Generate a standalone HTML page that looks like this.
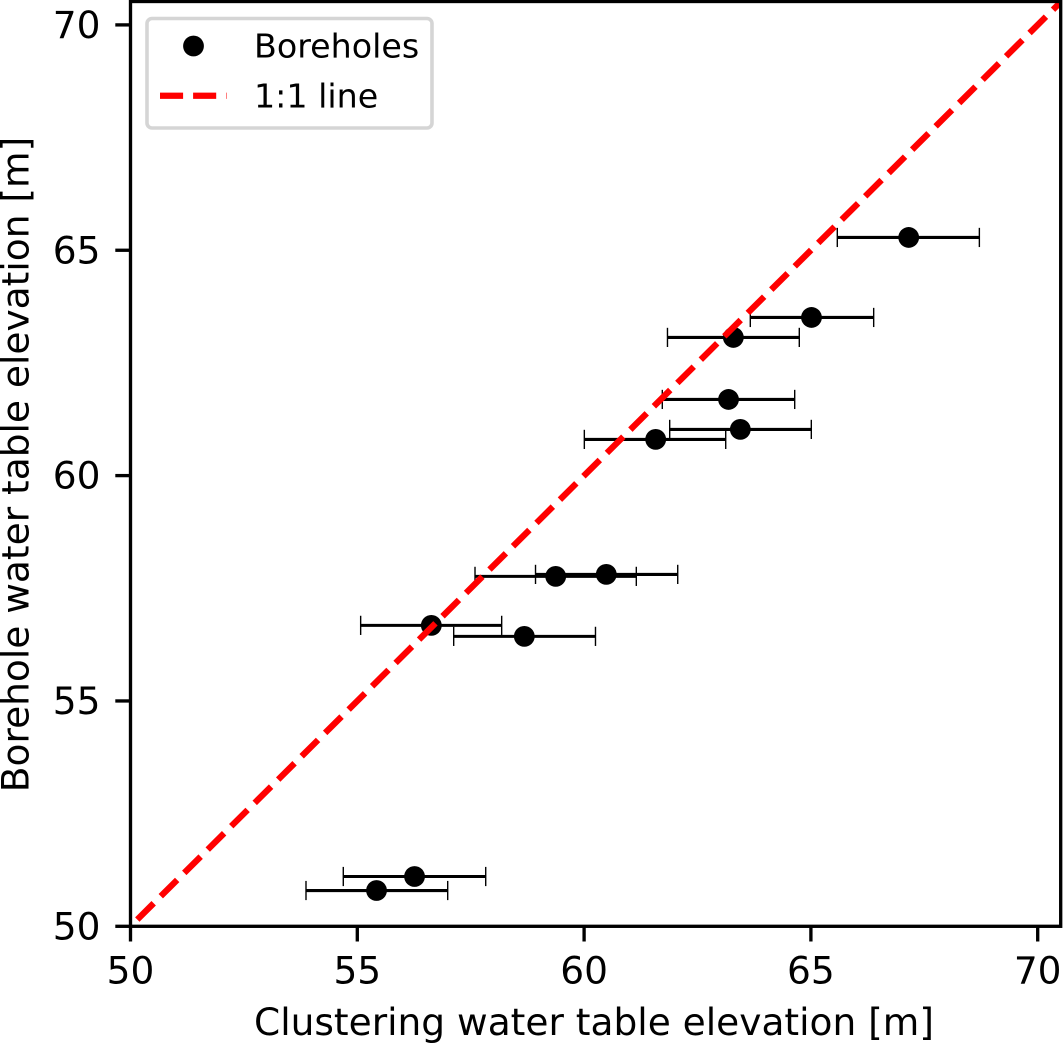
<!DOCTYPE html>
<html>
<head>
<meta charset="utf-8">
<title>Borehole vs clustering water table elevation</title>
<style>
html,body{margin:0;padding:0;background:#fff;width:1063px;height:1044px;overflow:hidden}
svg{display:block}
text{font-family:"DejaVu Sans","Liberation Sans",sans-serif;fill:#000;font-size:37.5px}
text.legend-text{font-size:33.3px}
</style>
</head>
<body>
<svg id="chart" xmlns="http://www.w3.org/2000/svg" width="1063" height="1044" viewBox="0 0 1063 1044">
  <defs>
    <clipPath id="plot-clip"><rect x="130.5" y="1.5" width="930.2" height="924.8"/></clipPath>
  </defs>
  <rect x="0" y="0" width="1063" height="1044" fill="#fff"/>
  <g id="bars"></g>
  <g id="points"></g>
  <g id="ref" clip-path="url(#plot-clip)"></g>
  <g id="ticks"></g>
  <rect x="130.5" y="1.5" width="930.2" height="924.8" fill="none" stroke="#000" stroke-width="3.33"/>
  <g>
    <rect x="147" y="18.5" width="285" height="109.5" rx="5" ry="5" fill="#fff" stroke="#d5d5d5" stroke-width="3.6"/>
    <circle cx="193.5" cy="46" r="10.4" fill="#000"/>
    <text class="legend-text" x="254" y="57.5">Boreholes</text>
    <line x1="160" y1="95.7" x2="226.7" y2="95.7" stroke="#f00" stroke-width="6.25" stroke-dasharray="23.1 10"/>
    <text class="legend-text" x="254" y="107.5">1:1 line</text>
  </g>
  <text x="594" y="1035" text-anchor="middle">Clustering water table elevation [m]</text>
  <text transform="translate(28.5 464.5) rotate(-90)" text-anchor="middle">Borehole water table elevation [m]</text>
</svg>
<script>
const xValues = [56.262, 55.424, 56.632, 58.682, 59.374, 60.489, 61.578, 63.444, 63.184, 63.290, 65.013, 67.156];
const yValues = [51.105, 50.794, 56.677, 56.433, 57.764, 57.808, 60.803, 61.025, 61.690, 63.066, 63.509, 65.284];
const xLow = [54.691, 53.869, 55.074, 57.125, 57.595, 58.929, 60.005, 61.887, 61.724, 61.838, 63.664, 65.582];
const xHigh = [57.831, 56.993, 58.183, 60.251, 61.151, 62.064, 63.122, 65.009, 64.643, 64.744, 66.384, 68.714];
const xTickValues = [50, 55, 60, 65, 70];
const yTickValues = [50, 55, 60, 65, 70];
const refLineEnds = [50.15, 71];

const NS = 'http://www.w3.org/2000/svg';
function xScale(v) { return 130.5 + (v - 50) * 45.36; }
function yScale(v) { return 926.3 - (v - 50) * 45.07; }
function make(tag, parent, props) {
  const el = document.createElementNS(NS, tag);
  for (const k in props) el.setAttribute(k, props[k]);
  parent.appendChild(el);
  return el;
}

const barsG = document.getElementById('bars');
const pointsG = document.getElementById('points');
const refG = document.getElementById('ref');
const ticksG = document.getElementById('ticks');

xValues.forEach(function (x, i) {
  const py = yScale(yValues[i]);
  const lo = xScale(xLow[i]);
  const hi = xScale(xHigh[i]);
  const bar = make('line', barsG, { x1: lo, y1: py, x2: hi, y2: py, stroke: '#000', 'stroke-width': 3.1 });
  
  
  const capL = make('line', barsG, { x1: lo, y1: py - 9.6, x2: lo, y2: py + 9.6, stroke: '#000', 'stroke-width': 1.4 });
  
  
  const capH = make('line', barsG, { x1: hi, y1: py - 9.6, x2: hi, y2: py + 9.6, stroke: '#000', 'stroke-width': 1.4 });
  
  
  const dot = make('circle', pointsG, { cx: xScale(x), cy: py, r: 10.4, fill: '#000' });
  
  
});

const refLine = make('line', refG, {
  x1: xScale(refLineEnds[0]), y1: yScale(refLineEnds[0]),
  x2: xScale(refLineEnds[1]), y2: yScale(refLineEnds[1]),
  stroke: '#f00', 'stroke-width': 6.25, 'stroke-dasharray': '23.1 10'
});



xTickValues.forEach(function (v) {
  const px = xScale(v);
  const mark = make('line', ticksG, { x1: px, y1: 926.3, x2: px, y2: 941.5, stroke: '#000', 'stroke-width': 3.33 });
  
  
  const label = make('text', ticksG, { x: px, y: 983.5, 'text-anchor': 'middle' });
  label.textContent = String(v);
  
  
});

yTickValues.forEach(function (v) {
  const py = yScale(v);
  const mark = make('line', ticksG, { x1: 115.3, y1: py, x2: 130.5, y2: py, stroke: '#000', 'stroke-width': 3.33 });
  
  
  const label = make('text', ticksG, { x: 100.5, y: py + 13, 'text-anchor': 'end' });
  label.textContent = String(v);
  
  
});
</script>
</body>
</html>
